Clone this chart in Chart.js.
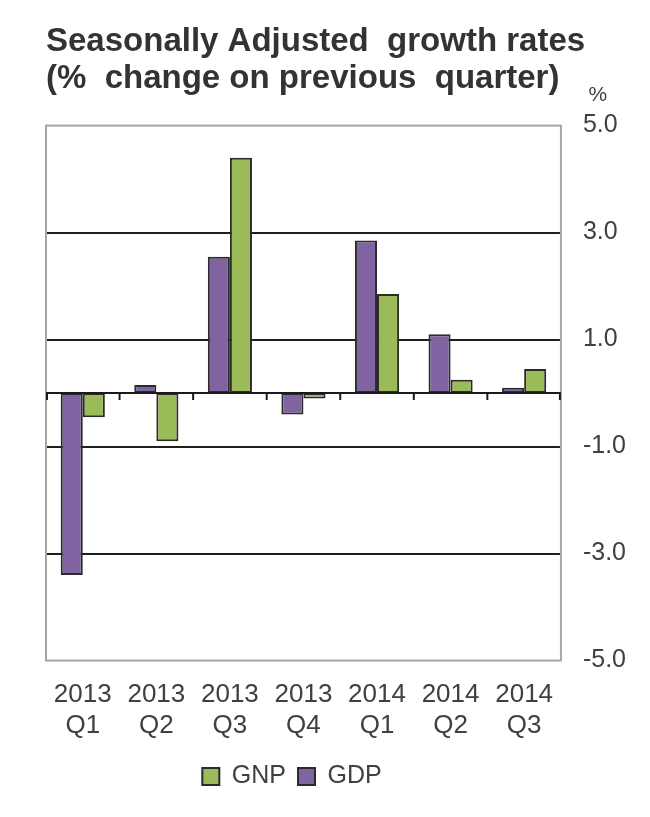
<!DOCTYPE html>
<html>
<head>
<meta charset="utf-8">
<script src="https://cdn.jsdelivr.net/npm/chart.js@4"></script>
<style>
  body { margin: 0; background: #fff; }
  #wrap { width: 650px; height: 817px; }
</style>
</head>
<body>
<div id="wrap"><canvas id="growthChart"></canvas></div>
<script>
// Quarterly growth rates
const quarters = [['2013', 'Q1'], ['2013', 'Q2'], ['2013', 'Q3'], ['2013', 'Q4'], ['2014', 'Q1'], ['2014', 'Q2'], ['2014', 'Q3']];
const gdpValues = [-3.4, 0.15, 2.55, -0.4, 2.85, 1.1, 0.1];
const gnpValues = [-0.45, -0.9, 4.4, -0.1, 1.85, 0.25, 0.45];
const yTicks = [-5, -3, -1, 1, 3, 5];

const FONT = '"Liberation Sans", Arial, sans-serif';
const TEXT = '#404040';

// frame round the plot area, zero line with its tick marks, and the % label
const framePlugin = {
    id: 'frame',
    beforeDatasetsDraw(chart) {
        const { ctx, chartArea } = chart;
        ctx.save();
        ctx.strokeStyle = '#a6a6a6';
        ctx.lineWidth = 2;
        ctx.strokeRect(chartArea.left, chartArea.top, chartArea.right - chartArea.left, chartArea.bottom - chartArea.top);
        ctx.restore();
    },
    afterDatasetsDraw(chart) {
        const { ctx, chartArea, scales } = chart;
        const y0 = scales.y.getPixelForValue(0);
        ctx.save();
        ctx.strokeStyle = '#1a1a1a';
        ctx.lineWidth = 2;
        ctx.beginPath();
        ctx.moveTo(chartArea.left, y0);
        ctx.lineTo(chartArea.right, y0);
        const n = quarters.length;
        for (let i = 0; i <= n; i++) {
            let x;
            if (i === 0) x = chartArea.left + 1;
            else if (i === n) x = chartArea.right - 1;
            else x = (scales.x.getPixelForValue(i - 1) + scales.x.getPixelForValue(i)) / 2;
            ctx.moveTo(x, y0);
            ctx.lineTo(x, y0 + 7);
        }
        ctx.stroke();

        ctx.fillStyle = TEXT;
        ctx.font = '21px ' + FONT;
        ctx.textAlign = 'center';
        ctx.textBaseline = 'alphabetic';
        ctx.fillText('%', chartArea.right + 37, chartArea.top - 25);
        ctx.restore();
    },
    afterLayout(chart) {
        // legend sits a little left of centre and a bit higher in the original
        chart.legend.left -= 55;
        chart.legend.right -= 55;
        chart.legend.top -= 8;
        chart.legend.bottom -= 8;
    }
};

document.addEventListener('DOMContentLoaded', function() {
    const ctx = document.getElementById('growthChart').getContext('2d');
    new Chart(ctx, {
        type: 'bar',
        data: {
            labels: quarters,
            datasets: [
                {
                    label: 'GDP',
                    data: gdpValues,
                    backgroundColor: '#8064a2',
                    borderColor: '#2b2b2b',
                    borderWidth: 2,
                    borderSkipped: false
                },
                {
                    label: 'GNP',
                    data: gnpValues,
                    backgroundColor: '#9bbb59',
                    borderColor: '#2b2b2b',
                    borderWidth: 2,
                    borderSkipped: false
                }
            ]
        },
        options: {
            responsive: true,
            maintainAspectRatio: false,
            animation: false,
            layout: { padding: { left: 46, right: 2, top: 0, bottom: 10 } },
            datasets: {
                bar: { barPercentage: 1.0, categoryPercentage: 0.6 }
            },
            plugins: {
                title: {
                    display: true,
                    text: ['Seasonally Adjusted  growth rates', '(%  change on previous  quarter)'],
                    align: 'start',
                    color: '#333333',
                    font: { family: FONT, size: 33, weight: 'bold', lineHeight: 1.1 },
                    padding: { top: 24, bottom: 29 }
                },
                legend: {
                    position: 'bottom',
                    reverse: true,
                    labels: {
                        color: TEXT,
                        font: { family: FONT, size: 25 },
                        boxWidth: 17,
                        boxHeight: 17,
                        padding: 12
                    }
                },
                tooltip: { enabled: false }
            },
            scales: {
                x: {
                    grid: { display: false, drawTicks: false },
                    border: { display: false },
                    ticks: {
                        color: TEXT,
                        font: { family: FONT, size: 26, lineHeight: 1.22 },
                        padding: 18,
                        maxRotation: 0
                    }
                },
                y: {
                    position: 'right',
                    min: -5,
                    max: 5,
                    afterBuildTicks: function(axis) {
                        axis.ticks = yTicks.map(v => ({ value: v }));
                    },
                    grid: {
                        drawTicks: false,
                        lineWidth: 2,
                        color: c => (c.tick && Math.abs(c.tick.value) === 5) ? 'rgba(0,0,0,0)' : '#1f1f1f'
                    },
                    border: { display: false },
                    ticks: {
                        color: TEXT,
                        font: { family: FONT, size: 25 },
                        padding: 22,
                        callback: v => v.toFixed(1)
                    }
                }
            }
        },
        plugins: [framePlugin]
    });
});
</script>
</body>
</html>
